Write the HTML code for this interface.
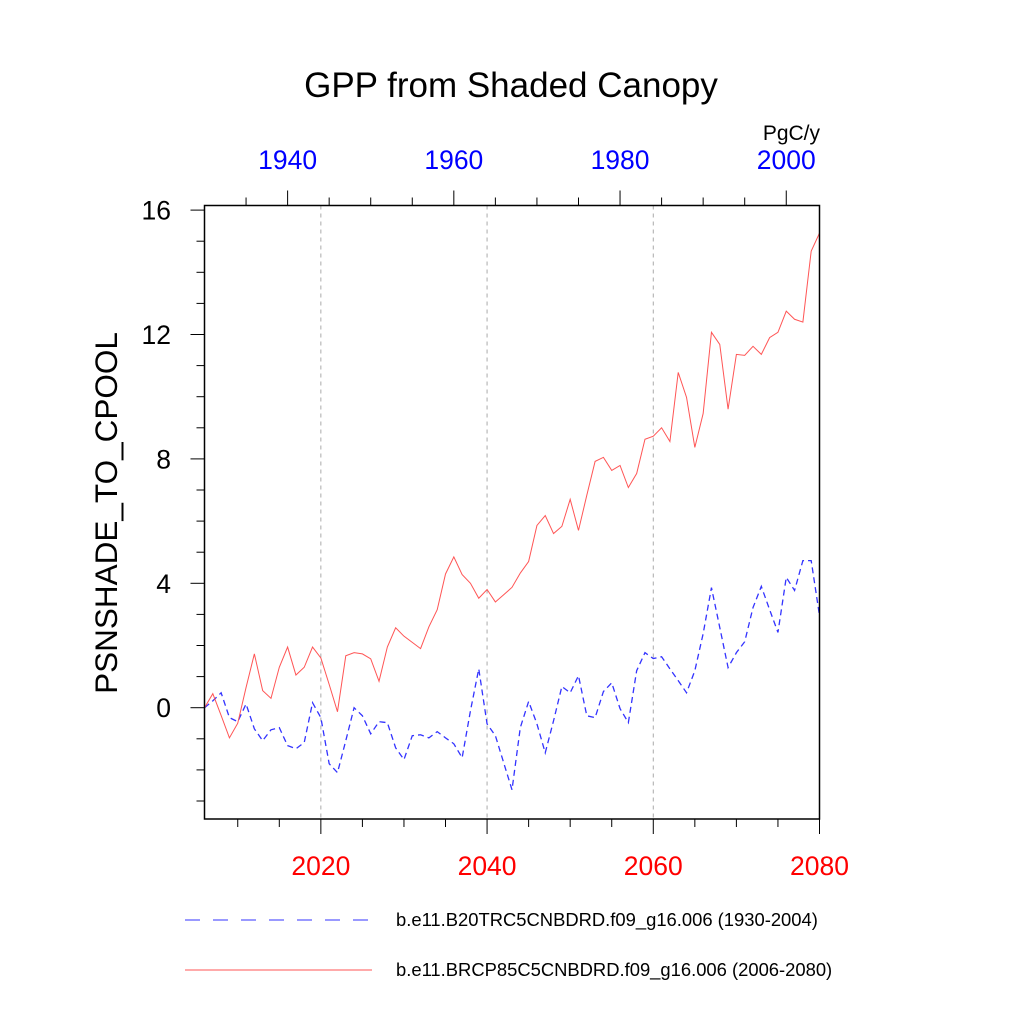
<!DOCTYPE html>
<html><head><meta charset="utf-8"><style>
body{margin:0;background:#fff;}
svg text{font-family:"Liberation Sans",sans-serif;}
</style></head><body>
<svg width="1024" height="1024" viewBox="0 0 1024 1024" xmlns="http://www.w3.org/2000/svg">
<rect width="1024" height="1024" fill="#fff"/>
<text x="511" y="97" text-anchor="middle" font-size="35">GPP from Shaded Canopy</text>
<text x="820" y="140" text-anchor="end" font-size="21">PgC/y</text>
<text transform="translate(117,513) rotate(-90)" text-anchor="middle" font-size="31.5">PSNSHADE_TO_CPOOL</text>
<g id="grid"></g>
<g id="axes"></g>
<g id="series"></g>
<rect x="204.5" y="205.5" width="615" height="613.5" fill="none" stroke="#000" stroke-width="1.5"/>
<line x1="185" y1="920" x2="372" y2="920" stroke="#3333ff" stroke-width="1" stroke-dasharray="15,13"/>
<text x="396" y="926" font-size="18.4">b.e11.B20TRC5CNBDRD.f09_g16.006 (1930-2004)</text>
<line x1="185" y1="970" x2="372" y2="970" stroke="#ff5555" stroke-width="1"/>
<text x="396" y="976" font-size="18.4">b.e11.BRCP85C5CNBDRD.f09_g16.006 (2006-2080)</text>
</svg>
<script>
const redStart = 2006;
const redValues = [0,0.45,-0.25,-0.97,-0.5,0.65,1.73,0.55,0.3,1.3,1.95,1.05,1.3,1.95,1.6,0.75,-0.13,1.67,1.77,1.73,1.57,0.85,1.95,2.57,2.3,2.1,1.9,2.6,3.15,4.3,4.85,4.28,4.0,3.52,3.8,3.4,3.63,3.87,4.33,4.7,5.86,6.18,5.6,5.83,6.7,5.7,6.83,7.92,8.05,7.63,7.79,7.08,7.53,8.63,8.73,9.0,8.56,10.78,9.98,8.37,9.46,12.07,11.68,9.6,11.36,11.33,11.62,11.36,11.9,12.07,12.75,12.49,12.4,14.68,15.26];
const blueStart = 1930;
const blueValues = [0,0.22,0.48,-0.32,-0.45,0.12,-0.68,-1.06,-0.71,-0.64,-1.22,-1.32,-1.12,0.16,-0.32,-1.8,-2.09,-1.06,0,-0.26,-0.84,-0.45,-0.48,-1.29,-1.67,-0.9,-0.87,-0.97,-0.77,-0.97,-1.16,-1.61,-0.1,1.25,-0.52,-0.9,-1.77,-2.64,-0.64,0.2,-0.52,-1.45,-0.42,0.68,0.48,1.03,-0.26,-0.32,0.52,0.8,-0.03,-0.48,1.19,1.77,1.58,1.64,1.25,0.87,0.48,1.19,2.38,3.86,2.58,1.29,1.77,2.12,3.22,3.9,3.15,2.42,4.19,3.77,4.73,4.73,2.96];
const bottomTicks = [2020,2040,2060,2080];
const topTicks = [1940,1960,1980,2000];
const yTicks = [0,4,8,12,16];

const NS="http://www.w3.org/2000/svg";
const L=204.5,R=819.5,T=205.5,B=819;
const xb = y => L + (y-2006)*(R-L)/74;
const xt = y => L + (y-1930)*(R-L)/74;
const yv = v => 707.7 - v*31.1;
function mk(tag, attrs, parent){const e=document.createElementNS(NS,tag);for(const k in attrs)e.setAttribute(k,attrs[k]);parent.appendChild(e);return e;}
const grid=document.getElementById('grid'),axes=document.getElementById('axes'),series=document.getElementById('series');
[2020,2040,2060].forEach(y=>{
  const l=mk('line',{x1:xb(y),x2:xb(y),y1:T,y2:B,stroke:'#aaa','stroke-width':1,'stroke-dasharray':'4,4'},grid);
  
  
});
for(let y=2010;y<=2080;y+=5){
  const major=bottomTicks.includes(y);
  const l=mk('line',{x1:xb(y),x2:xb(y),y1:B,y2:B+(major?15:8),stroke:'#000','stroke-width':1},axes);
  
  
}
bottomTicks.forEach(y=>{
  const t=mk('text',{x:xb(y),y:875,'text-anchor':'middle','font-size':26.5,fill:'#ff0000'},axes);t.textContent=y;
  
  
});
for(let y=1935;y<=2000;y+=5){
  const major=topTicks.includes(y);
  const l=mk('line',{x1:xt(y),x2:xt(y),y1:T,y2:T-(major?15:8),stroke:'#000','stroke-width':1},axes);
  
  
}
topTicks.forEach(y=>{
  const t=mk('text',{x:xt(y),y:169,'text-anchor':'middle','font-size':26.5,fill:'#0000ff'},axes);t.textContent=y;
  
  
});
for(let v=-3;v<=16;v++){
  const major=yTicks.includes(v);
  const l=mk('line',{x1:L,x2:L-(major?14:8),y1:yv(v),y2:yv(v),stroke:'#000','stroke-width':1},axes);
  
  
}
yTicks.forEach(v=>{
  const t=mk('text',{x:171,y:yv(v)+9.5,'text-anchor':'end','font-size':26.5},axes);t.textContent=v;
  
  
});
const bp=mk('polyline',{points:blueValues.map((v,i)=>xt(blueStart+i)+','+yv(v)).join(' '),fill:'none',stroke:'#3333ff','stroke-width':1.3,'stroke-dasharray':'6,4'},series);


const rp=mk('polyline',{points:redValues.map((v,i)=>xb(redStart+i)+','+yv(v)).join(' '),fill:'none',stroke:'#ff5555','stroke-width':1},series);


</script>
</body></html>
